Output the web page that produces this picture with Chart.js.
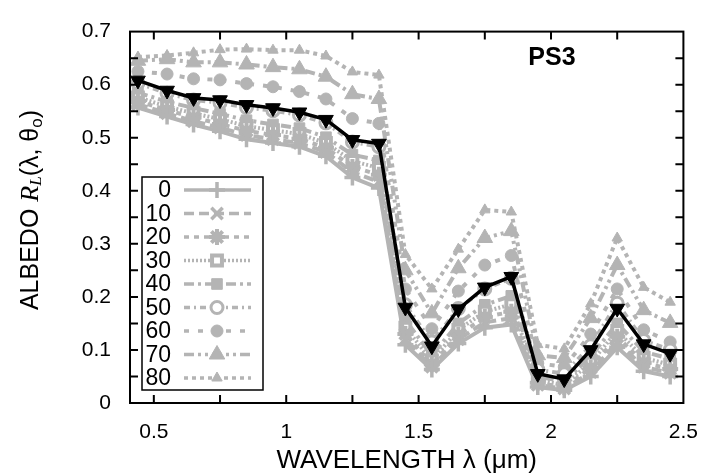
<!DOCTYPE html>
<html>
<head>
<meta charset="utf-8">
<script src="https://cdn.jsdelivr.net/npm/chart.js@4/dist/chart.umd.min.js"></script>
<style>
  html, body { margin: 0; padding: 0; background: #fff; }
  #wrap { width: 715px; height: 474px; }
</style>
</head>
<body>
<div id="wrap"><canvas id="albedoChart" width="715" height="474"></canvas></div>
<script>
// wavelengths (um)
const wavelength = [0.44, 0.55, 0.65, 0.75, 0.85, 0.95, 1.05, 1.15, 1.25, 1.35, 1.45,
                    1.55, 1.65, 1.75, 1.85, 1.95, 2.05, 2.15, 2.25, 2.35, 2.45];

// solar zenith angles in the legend
const angleLabels = ['0', '10', '20', '30', '40', '50', '60', '70', '80'];

const alb0  = [0.557, 0.540, 0.525, 0.512, 0.497, 0.490, 0.483, 0.465, 0.425, 0.405, 0.110,
               0.063, 0.112, 0.142, 0.148, 0.030, 0.024, 0.050, 0.105, 0.060, 0.050];
const alb10 = [0.563, 0.546, 0.531, 0.519, 0.505, 0.497, 0.490, 0.473, 0.435, 0.417, 0.120,
               0.068, 0.120, 0.152, 0.160, 0.034, 0.027, 0.058, 0.115, 0.068, 0.057];
const alb20 = [0.569, 0.552, 0.538, 0.526, 0.513, 0.505, 0.498, 0.481, 0.445, 0.430, 0.130,
               0.073, 0.128, 0.162, 0.172, 0.038, 0.030, 0.066, 0.125, 0.076, 0.064];
const alb30 = [0.576, 0.559, 0.546, 0.535, 0.522, 0.514, 0.507, 0.490, 0.456, 0.443, 0.142,
               0.080, 0.138, 0.172, 0.186, 0.043, 0.034, 0.076, 0.136, 0.085, 0.072];
const alb40 = [0.585, 0.568, 0.556, 0.545, 0.533, 0.525, 0.518, 0.501, 0.468, 0.457, 0.156,
               0.090, 0.150, 0.185, 0.202, 0.050, 0.040, 0.088, 0.150, 0.097, 0.083];
const alb50 = [0.603, 0.584, 0.571, 0.566, 0.557, 0.551, 0.543, 0.528, 0.492, 0.483, 0.185,
               0.115, 0.178, 0.215, 0.235, 0.063, 0.055, 0.108, 0.188, 0.118, 0.100];
const alb60 = [0.625, 0.620, 0.611, 0.609, 0.602, 0.596, 0.587, 0.573, 0.536, 0.527, 0.215,
               0.140, 0.211, 0.260, 0.278, 0.075, 0.068, 0.130, 0.215, 0.138, 0.115];
const alb70 = [0.645, 0.648, 0.642, 0.642, 0.638, 0.633, 0.629, 0.615, 0.582, 0.573, 0.250,
               0.169, 0.254, 0.311, 0.324, 0.090, 0.085, 0.160, 0.260, 0.175, 0.151];
const alb80 = [0.652, 0.655, 0.660, 0.666, 0.667, 0.665, 0.665, 0.654, 0.624, 0.618, 0.280,
               0.215, 0.290, 0.364, 0.360, 0.110, 0.102, 0.187, 0.311, 0.218, 0.190];
// highlighted curve (black, down triangles)
const albMean = [0.608, 0.589, 0.575, 0.571, 0.562, 0.556, 0.548, 0.534, 0.496, 0.489, 0.180,
                 0.107, 0.177, 0.218, 0.238, 0.055, 0.045, 0.100, 0.178, 0.111, 0.093];

const xTicksMajor = ['0.5', '1', '1.5', '2', '2.5'];

const GREY = '#b4b4b4';
const FONT = "'Liberation Sans', Arial, sans-serif";

const greySeries = [alb0, alb10, alb20, alb30, alb40, alb50, alb60, alb70, alb80];
const styles = [
    { dash: [],              point: 'cross',    r: 8, bw: 3.5, fill: GREY },
    { dash: [10, 5],         point: 'crossRot', r: 8, bw: 3.5, fill: GREY },
    { dash: [5, 5],          point: 'star',     r: 8, bw: 4,   fill: GREY },
    { dash: [2, 2],          point: 'rect',     r: 7, bw: 4,   fill: '#fff' },
    { dash: [10, 4, 3, 4],   point: 'rect',     r: 7.5, bw: 1, fill: GREY },
    { dash: [6, 4, 2, 4],    point: 'circle',   r: 6, bw: 3,   fill: '#fff' },
    { dash: [5, 9],          point: 'circle',   r: 6, bw: 1,   fill: GREY },
    { dash: [10, 4, 3, 4, 3, 4], point: 'triangle', r: 9, bw: 1, fill: GREY },
    { dash: [4, 4],          point: 'triangle', r: 6, bw: 1,   fill: GREY }
];

function toPoints(arr) {
    return wavelength.map((w, i) => ({ x: w, y: arr[i] }));
}

const datasets = greySeries.map((arr, i) => ({
    label: angleLabels[i],
    data: toPoints(arr),
    borderColor: GREY,
    borderWidth: 4,
    borderDash: styles[i].dash,
    pointStyle: styles[i].point,
    pointRadius: styles[i].r,
    pointBorderWidth: styles[i].bw,
    pointBorderColor: GREY,
    pointBackgroundColor: styles[i].fill,
    tension: 0,
    order: 1
}));

datasets.push({
    label: 'PS3',
    data: toPoints(albMean),
    borderColor: '#000',
    borderWidth: 3.5,
    pointStyle: 'triangle',
    pointRotation: 180,
    pointRadius: 8.5,
    pointBorderWidth: 1,
    pointBorderColor: '#000',
    pointBackgroundColor: '#000',
    tension: 0,
    order: 0,
    inLegend: false
});

// frame, inward ticks, titles and legend box
const decorations = {
    id: 'decorations',
    afterDraw(chart) {
        const { ctx, chartArea: a, scales: { x, y } } = chart;
        ctx.save();
        ctx.strokeStyle = '#000';
        ctx.lineWidth = 2;
        ctx.setLineDash([]);
        ctx.strokeRect(a.left, a.top, a.right - a.left, a.bottom - a.top);

        ctx.beginPath();
        x.ticks.forEach(t => {
            const px = x.getPixelForValue(t.value);
            if (px < a.left + 2 || px > a.right - 2) return;
            ctx.moveTo(px, a.bottom); ctx.lineTo(px, a.bottom - 8);
            ctx.moveTo(px, a.top); ctx.lineTo(px, a.top + 8);
        });
        y.ticks.forEach(t => {
            const py = y.getPixelForValue(t.value);
            if (py < a.top + 2 || py > a.bottom - 2) return;
            ctx.moveTo(a.left, py); ctx.lineTo(a.left + 8, py);
            ctx.moveTo(a.right, py); ctx.lineTo(a.right - 8, py);
        });
        ctx.stroke();

        ctx.fillStyle = '#000';

        // PS3 tag
        ctx.font = 'bold 25px ' + FONT;
        ctx.textAlign = 'center';
        ctx.textBaseline = 'middle';
        ctx.fillText('PS3', 552, 58);

        // x title
        ctx.font = '26px ' + FONT;
        ctx.fillText('WAVELENGTH \u03bb (\u03bcm)', (a.left + a.right) / 2, 461);

        // y title with italic R and subscripts
        const parts = [
            { t: 'ALBEDO ', f: '25px ' + FONT, dy: 0 },
            { t: 'R', f: 'italic 26px "Liberation Serif", serif', dy: 0 },
            { t: 'L', f: 'italic 17px "Liberation Serif", serif', dy: 6 },
            { t: '(\u03bb, \u03b8', f: '25px ' + FONT, dy: 0 },
            { t: 'o', f: '17px ' + FONT, dy: 6 },
            { t: ')', f: '25px ' + FONT, dy: 0 }
        ];
        let total = 0;
        parts.forEach(p => { ctx.font = p.f; p.w = ctx.measureText(p.t).width; total += p.w; });
        ctx.save();
        ctx.translate(31, 210);
        ctx.rotate(-Math.PI / 2);
        ctx.textAlign = 'left';
        let cx = -total / 2;
        parts.forEach(p => { ctx.font = p.f; ctx.fillText(p.t, cx, p.dy); cx += p.w; });
        ctx.restore();

        // legend box
        const bx = 142, by = 177, bw = 121, bh = 213;
        ctx.fillStyle = '#fff';
        ctx.fillRect(bx, by, bw, bh);
        ctx.lineWidth = 1.5;
        ctx.strokeStyle = '#000';
        ctx.strokeRect(bx, by, bw, bh);

        chart.data.datasets.forEach((ds, i) => {
            if (ds.inLegend === false) return;
            const ry = 190 + i * 23.5;
            ctx.fillStyle = '#000';
            ctx.font = '23px ' + FONT;
            ctx.textAlign = 'right';
            ctx.textBaseline = 'middle';
            ctx.fillText(ds.label, 171, ry + 1);

            ctx.strokeStyle = GREY;
            ctx.lineWidth = 3.5;
            ctx.setLineDash(ds.borderDash);
            ctx.beginPath();
            ctx.moveTo(184, ry); ctx.lineTo(251, ry);
            ctx.stroke();
            ctx.setLineDash([]);

            ctx.fillStyle = ds.pointBackgroundColor;
            ctx.strokeStyle = ds.pointBorderColor;
            ctx.lineWidth = ds.pointBorderWidth;
            Chart.helpers.drawPoint(ctx, {
                pointStyle: ds.pointStyle,
                radius: ds.pointRadius,
                rotation: 0,
                borderWidth: ds.pointBorderWidth
            }, 217, ry);
        });
        ctx.restore();
    }
};

new Chart(document.getElementById('albedoChart').getContext('2d'), {
    type: 'line',
    data: { datasets: datasets },
    options: {
        responsive: false,
        animation: false,
        events: [],
        layout: { padding: { top: 21, right: 17, left: 0, bottom: 0 } },
        plugins: { legend: { display: false }, tooltip: { enabled: false } },
        scales: {
            x: {
                type: 'linear',
                min: 0.41,
                max: 2.5,
                afterFit: s => { s.height = 71; },
                grid: { display: false, drawTicks: false },
                border: { display: false },
                ticks: {
                    stepSize: 0.25,
                    includeBounds: false,
                    padding: 17,
                    autoSkip: false,
                    maxRotation: 0,
                    color: '#000',
                    font: { family: FONT, size: 21 },
                    callback: v => {
                        const lbl = String(+v.toFixed(2));
                        return xTicksMajor.includes(lbl) ? lbl : '';
                    }
                }
            },
            y: {
                min: 0,
                max: 0.7,
                afterFit: s => { s.width = 130; },
                grid: { display: false, drawTicks: false },
                border: { display: false },
                ticks: {
                    stepSize: 0.05,
                    padding: 19,
                    autoSkip: false,
                    color: '#000',
                    font: { family: FONT, size: 21 },
                    callback: v => Math.abs(v * 10 - Math.round(v * 10)) < 1e-6 ? String(+v.toFixed(1)) : ''
                }
            }
        }
    },
    plugins: [decorations]
});
</script>
</body>
</html>
